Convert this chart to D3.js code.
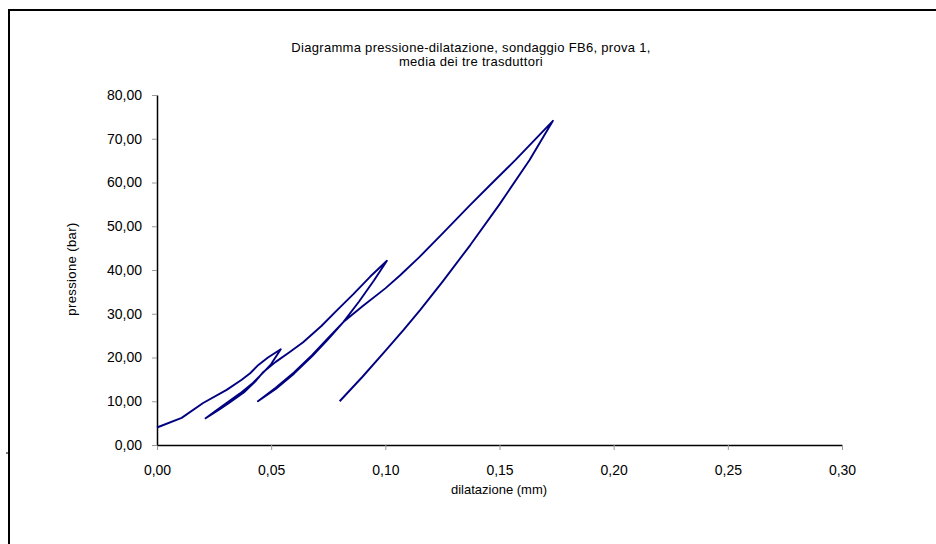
<!DOCTYPE html>
<html>
<head>
<meta charset="utf-8">
<script src="https://cdn.jsdelivr.net/npm/d3@7"></script>
<style>
  body { margin: 0; background: #fff; }
  svg { display: block; font-family: "Liberation Sans", Arial, sans-serif; }
</style>
</head>
<body>
<script>
// curve, in drawing order (load / unload / reload ...)
var dilatazione = [
    0.000, 0.0108, 0.0202, 0.0305, 0.0371, 0.0408, 0.0444, 0.0486, 0.0542,
    0.0500, 0.0466, 0.0420, 0.0364, 0.0300, 0.0262, 0.0213,
    0.0270, 0.0320, 0.0380, 0.0430, 0.0466, 0.0520, 0.0580, 0.0640, 0.0720, 0.0790, 0.0860, 0.0934, 0.1007,
    0.0950, 0.0885, 0.0816, 0.0750, 0.0680, 0.0600, 0.0520, 0.0442,
    0.0520, 0.0600, 0.0680, 0.0750, 0.0816, 0.0900, 0.1000, 0.1065, 0.1150, 0.1250, 0.1372, 0.1470, 0.1569, 0.1650, 0.1734,
    0.1631, 0.1500, 0.1372, 0.1250, 0.1153, 0.1080, 0.1000, 0.0900, 0.0800
];
var pressione = [
    4.0, 6.2, 9.6, 12.6, 14.9, 16.4, 18.3, 20.0, 21.9,
    18.5, 16.6, 14.2, 11.8, 9.4, 8.0, 6.1,
    8.0, 9.8, 12.0, 14.5, 16.7, 19.0, 21.2, 23.5, 27.2, 30.9, 34.5, 38.5, 42.1,
    37.6, 32.8, 28.1, 24.5, 20.6, 16.6, 13.1, 10.0,
    12.8, 16.3, 20.3, 24.2, 28.1, 31.7, 35.8, 38.8, 43.0, 48.3, 54.9, 60.0, 65.1, 69.5, 74.1,
    65.1, 55.0, 45.7, 37.3, 30.9, 26.3, 21.5, 15.6, 10.0
];

var xTicks = [0, 0.05, 0.10, 0.15, 0.20, 0.25, 0.30];
var yTicks = [0, 10, 20, 30, 40, 50, 60, 70, 80];
var titleLines = ["Diagramma pressione-dilatazione, sondaggio FB6, prova 1,", "media dei tre trasduttori"];

var width = 936, height = 544;
var plotLeft = 157, plotRight = 842, plotTop = 95, plotBottom = 445;

var it = d3.formatLocale({decimal: ",", thousands: ".", grouping: [3], currency: ["", " €"]});
var fmt = it.format(".2f");

var svg = d3.select("body").append("svg")
    .attr("width", width)
    .attr("height", height)

// outer frame (cut off at right and bottom like the original)
svg.append("path")
    .attr("d", "M9," + height + "V10H" + width)
    .attr("fill", "none")
    .attr("stroke", "#000")
    .attr("stroke-width", 2)
svg.append("line")
    .attr("x1", 6).attr("x2", 9)
    .attr("y1", 453).attr("y2", 453)
    .attr("stroke", "#000")

var x = d3.scaleLinear().domain([0, 0.3]).range([plotLeft, plotRight]);
var y = d3.scaleLinear().domain([0, 80]).range([plotBottom, plotTop]);

var xAxis = svg.append("g")
    .attr("transform", "translate(0," + plotBottom + ")")
    .call(d3.axisBottom(x).tickValues(xTicks).tickFormat(fmt).tickSize(5).tickSizeOuter(0).tickPadding(15))

var yAxis = svg.append("g")
    .attr("transform", "translate(" + plotLeft + ",0)")
    .call(d3.axisLeft(y).tickValues(yTicks).tickFormat(fmt).tickSize(5).tickSizeOuter(0).tickPadding(10))

svg.selectAll(".domain").attr("stroke", "#000").attr("stroke-width", 1.5)
svg.selectAll(".tick line").attr("stroke", "#999")
svg.selectAll(".tick text")
    .attr("fill", "#000")
    .style("font-size", "14px")
    .style("font-family", "'Liberation Sans', Arial, sans-serif")

var pts = dilatazione.map(function(d, i) { return [d, pressione[i]]; });

svg.append("path")
    .datum(pts)
    .attr("fill", "none")
    .attr("stroke", "#000080")
    .attr("stroke-width", 1.9)
    .attr("stroke-linejoin", "round")
    .attr("d", d3.line().x(function(d) { return x(d[0]); }).y(function(d) { return y(d[1]); }))

// title
svg.append("text")
    .attr("text-anchor", "middle")
    .style("font-size", "13px")
    .style("letter-spacing", "0.3px")
    .selectAll("tspan")
    .data(titleLines)
    .enter().append("tspan")
    .attr("x", 471)
    .attr("y", function(d, i) { return 52 + i * 14; })
    .text(function(d) { return d; })

// axis titles
svg.append("text")
    .attr("x", 499)
    .attr("y", 494)
    .attr("text-anchor", "middle")
    .style("font-size", "13px")
    .text("dilatazione (mm)")

svg.append("text")
    .attr("transform", "translate(76,269) rotate(-90)")
    .attr("text-anchor", "middle")
    .style("font-size", "13px")
    .style("letter-spacing", "0.4px")
    .text("pressione (bar)")
</script>
</body>
</html>
